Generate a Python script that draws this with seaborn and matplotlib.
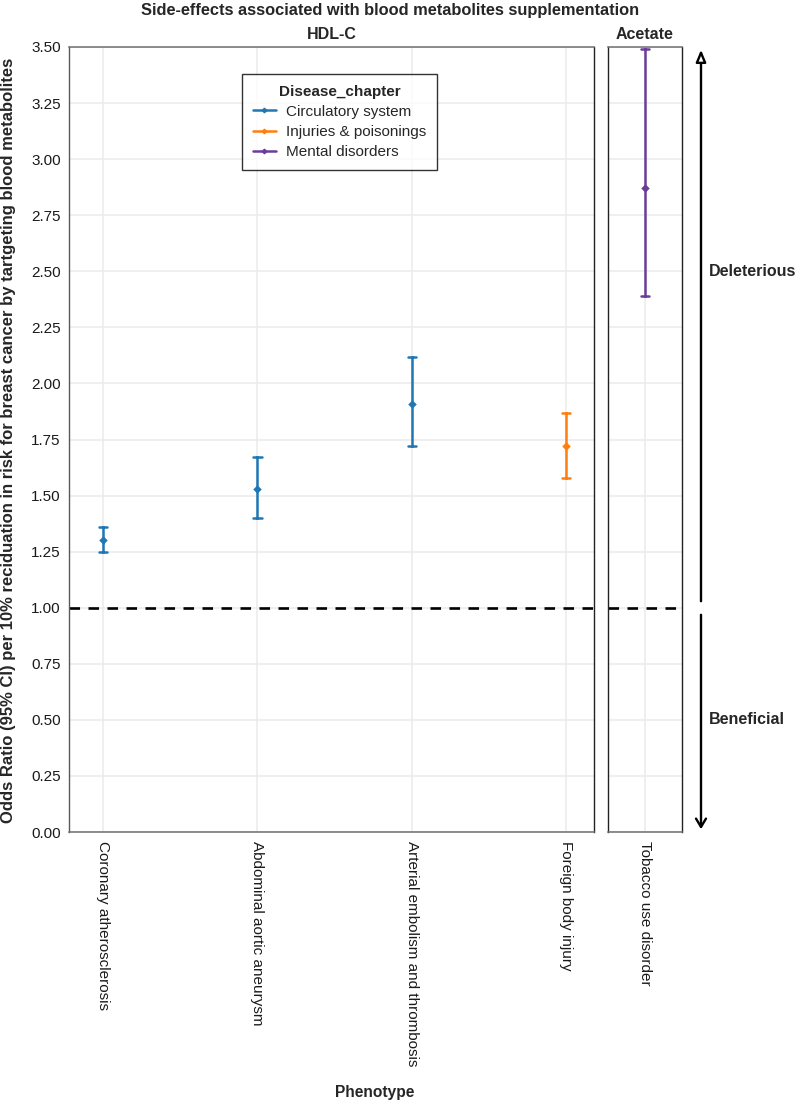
import pandas as pd
import seaborn as sns
import matplotlib.pyplot as plt
from matplotlib.lines import Line2D
from matplotlib.patches import FancyArrowPatch

# data
phenotypes = ["Coronary atherosclerosis", "Abdominal aortic aneurysm",
              "Arterial embolism and thrombosis", "Foreign body injury",
              "Tobacco use disorder"]
metabolite = ["HDL-C", "HDL-C", "HDL-C", "HDL-C", "Acetate"]
chapter = ["Circulatory system", "Circulatory system", "Circulatory system",
           "Injuries & poisonings", "Mental disorders"]
odds_ratio = [1.30, 1.53, 1.91, 1.72, 2.87]
ci_low = [1.25, 1.40, 1.72, 1.58, 2.39]
ci_high = [1.36, 1.67, 2.12, 1.87, 3.49]
y_ticks = [0.0, 0.25, 0.5, 0.75, 1.0, 1.25, 1.5, 1.75, 2.0, 2.25, 2.5, 2.75, 3.0, 3.25, 3.5]

chapters = ["Circulatory system", "Injuries & poisonings", "Mental disorders"]
palette = {"Circulatory system": "#1f77b4",
           "Injuries & poisonings": "#ff7f0e",
           "Mental disorders": "#6a3d9a"}

# long table: low / estimate / high per phenotype, so median = OR and min-max = CI
rows = []
for i in range(len(phenotypes)):
    for v in (ci_low[i], odds_ratio[i], ci_high[i]):
        rows.append({"Phenotype": phenotypes[i], "Metabolite": metabolite[i],
                     "Disease_chapter": chapter[i], "value": v})
df = pd.DataFrame(rows)

sns.set_style("white")
plt.rcParams["font.family"] = ["Liberation Sans", "DejaVu Sans"]

W, H = 797, 1111
fig = plt.figure(figsize=(W / 100, H / 100), dpi=100)

def fx(px):
    return px / W

def fy(px):
    return 1 - px / H

top, bottom = 47, 832
left1, right1 = 69, 594
ax1 = fig.add_axes([fx(left1), fy(bottom), fx(right1 - left1), (bottom - top) / H])
ax2 = fig.add_axes([fx(608), fy(bottom), fx(682 - 608), (bottom - top) / H])

panels = [(ax1, "HDL-C", 0.055), (ax2, "Acetate", 0.11)]
for ax, met, cap in panels:
    sub = df[df["Metabolite"] == met]
    order = [p for p, m in zip(phenotypes, metabolite) if m == met]
    ax.set_axisbelow(True)
    sns.pointplot(data=sub, x="Phenotype", y="value", hue="Disease_chapter",
                  order=order, hue_order=chapters, palette=palette,
                  estimator="median", errorbar=lambda v: (v.min(), v.max()),
                  capsize=cap, markers="D", linestyles="none",
                  markersize=2.3, err_kws={"linewidth": 1.8},
                  legend=False, ax=ax)
    ax.axhline(1.0, color="black", lw=1.9, ls=(0, (4, 3.2)), zorder=1)
    ax.set_ylim(0, 3.5)
    ax.set_yticks(y_ticks)
    ax.grid(True, color="#ebebeb", lw=1.1)
    ax.set_xlabel("")
    ax.set_ylabel("")
    ax.tick_params(axis="x", rotation=-90, labelsize=11, length=3.5,
                   color="#555555", labelcolor="#1a1a1a", pad=3)
    for lab in ax.get_xticklabels():
        lab.set_va("top")
        lab.set_ha("center")
    for side in ["left", "right"]:
        ax.spines[side].set_color("#222222")
        ax.spines[side].set_linewidth(1.0)
    for side in ["top", "bottom"]:
        ax.spines[side].set_color("#6f6f6f")
        ax.spines[side].set_linewidth(1.1)
    ax.set_title(met, fontsize=11.5, fontweight="bold", pad=6)

ax1.spines["left"].set_color("#5a5a5a")
ax1.set_xlim(-0.22, 3.18)
ax2.set_xlim(-0.5, 0.5)
ax1.tick_params(axis="y", labelsize=11, length=3.5, color="#555555",
                labelcolor="#1a1a1a", pad=2.5)
ax1.set_yticklabels([f"{t:.2f}" for t in y_ticks])
ax2.tick_params(axis="y", left=False, labelleft=False)

# legend
handles = [Line2D([0], [0], color=palette[c], lw=1.8, marker="D", markersize=2.3)
           for c in chapters]
leg = ax1.legend(handles, chapters, title="Disease_chapter",
                 loc="upper left",
                 bbox_to_anchor=((242 - left1) / (right1 - left1), 1 - (74 - top) / (bottom - top)),
                 frameon=True, fancybox=False, edgecolor="black",
                 fontsize=11, title_fontproperties={"weight": "bold", "size": 11},
                 handlelength=1.5, handletextpad=0.7, borderpad=0.7,
                 labelspacing=0.4, borderaxespad=0)
leg.get_frame().set_linewidth(1.0)

# direction arrows
ax_x = fx(701)
fig.add_artist(FancyArrowPatch(
    (ax_x, fy(604)), (ax_x, fy(47)), transform=fig.transFigure,
    arrowstyle="-|>,head_length=0.6,head_width=0.25", fc="white", ec="black",
    lw=1.7, mutation_scale=12))
fig.add_artist(FancyArrowPatch(
    (ax_x, fy(612)), (ax_x, fy(832)), transform=fig.transFigure,
    arrowstyle="->,head_length=0.5,head_width=0.3", color="black",
    lw=1.7, mutation_scale=12))
fig.text(fx(709), fy(272), "Deleterious", fontsize=11.5, fontweight="bold",
         va="center", ha="left")
fig.text(fx(709), fy(720), "Beneficial", fontsize=11.5, fontweight="bold",
         va="center", ha="left")

fig.text(fx(390), fy(11), "Side-effects associated with blood metabolites supplementation",
         fontsize=11.8, fontweight="bold", ha="center", va="center")
fig.text(fx(375), fy(1093), "Phenotype", fontsize=11.2, fontweight="bold",
         ha="center", va="center")
fig.text(fx(9), fy(440),
         "Odds Ratio (95% CI) per 10% reciduation in risk for breast cancer by tartgeting blood metabolites",
         fontsize=12, fontweight="bold", rotation=90, ha="center", va="center")

fig.savefig("out.png", dpi=100)
